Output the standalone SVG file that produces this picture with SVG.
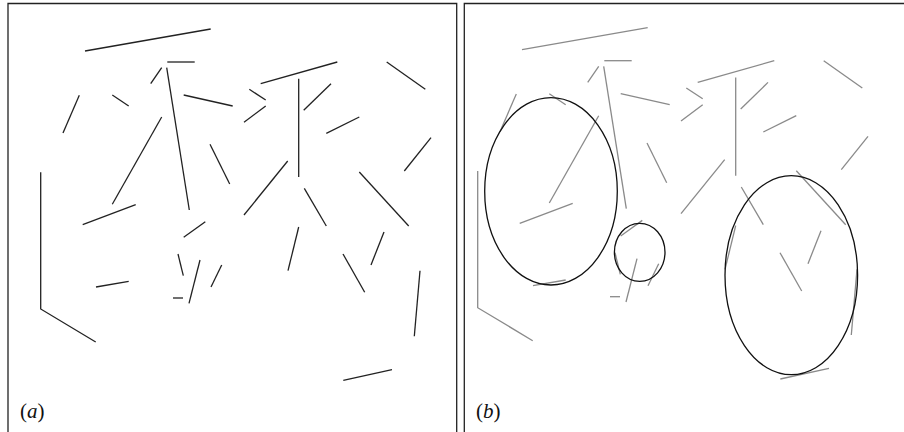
<svg xmlns="http://www.w3.org/2000/svg" xmlns:xlink="http://www.w3.org/1999/xlink" width="904" height="432" viewBox="0 0 904 432">
<style>
.frame{fill:none;stroke:#222;stroke-width:1.3}
.segA{stroke:#222;stroke-width:1.3;fill:none}
.segB{stroke:#8a8a8a;stroke-width:1.3;fill:none}
.ell{fill:none;stroke:#111;stroke-width:1.3}
.lbl{font-family:"Liberation Serif",serif;font-size:21px;fill:#111}
</style>
<defs>
<g id="segs">
<line x1="85" y1="51" x2="210.7" y2="29"/>
<line x1="167.3" y1="62" x2="194.7" y2="62"/>
<line x1="150.7" y1="83.7" x2="161.7" y2="67.7"/>
<line x1="166.7" y1="67.7" x2="189.3" y2="210"/>
<line x1="183.7" y1="95" x2="232.7" y2="106"/>
<line x1="79.3" y1="95.3" x2="63" y2="133"/>
<line x1="112.3" y1="95" x2="128.7" y2="106"/>
<line x1="161.7" y1="117" x2="112.3" y2="204.3"/>
<line x1="210" y1="144.3" x2="229.7" y2="184"/>
<polyline points="40.7,172.3 40.7,309 95.7,342"/>
<line x1="135.7" y1="204.7" x2="82.7" y2="224.7"/>
<line x1="260.7" y1="83.7" x2="337.3" y2="62"/>
<line x1="386.7" y1="62" x2="425.3" y2="89.3"/>
<line x1="249.3" y1="89.3" x2="265.7" y2="100"/>
<line x1="265.7" y1="106" x2="244" y2="122.3"/>
<line x1="298.7" y1="78.7" x2="298.7" y2="177"/>
<line x1="331" y1="83.7" x2="303.7" y2="110.3"/>
<line x1="359.3" y1="117" x2="326.3" y2="133.3"/>
<line x1="431" y1="137.7" x2="404.3" y2="171"/>
<line x1="287.7" y1="161" x2="244" y2="215"/>
<line x1="304.3" y1="188.3" x2="326.3" y2="226"/>
<line x1="359.3" y1="172" x2="408.7" y2="226"/>
<line x1="298.7" y1="227" x2="288" y2="270.7"/>
<line x1="384" y1="232" x2="371" y2="265"/>
<line x1="343" y1="254" x2="364.7" y2="292.3"/>
<line x1="420" y1="270.7" x2="414.3" y2="336.3"/>
<line x1="343.3" y1="380.3" x2="392" y2="369.7"/>
<line x1="205.3" y1="221.7" x2="183.7" y2="237.3"/>
<line x1="96" y1="287" x2="128.7" y2="281.3"/>
<line x1="178" y1="254" x2="183.3" y2="275.7"/>
<line x1="200" y1="260" x2="189" y2="303.3"/>
<line x1="173" y1="298" x2="183" y2="298"/>
<line x1="221.7" y1="265" x2="211" y2="287"/>
</g>
</defs>
<g id="frames">
<path class="frame" d="M8,432 V3.5 H456.7 V432"/>
<path class="frame" d="M464.3,432 V3.5 H904"/>
</g>
<g id="panel-a">
<use xlink:href="#segs" class="segA"/>
<text class="lbl" x="20" y="418">(<tspan font-style="italic">a</tspan>)</text>
</g>
<g id="panel-b">
<use xlink:href="#segs" class="segB" transform="translate(437,-1.3)"/>
<ellipse class="ell" cx="551" cy="191.3" rx="66.3" ry="93.7"/>
<ellipse class="ell" cx="639.7" cy="252.3" rx="25.3" ry="29"/>
<ellipse class="ell" cx="791.3" cy="275.2" rx="66.3" ry="99.5"/>
<text class="lbl" x="476" y="418">(<tspan font-style="italic">b</tspan>)</text>
</g>
</svg>
